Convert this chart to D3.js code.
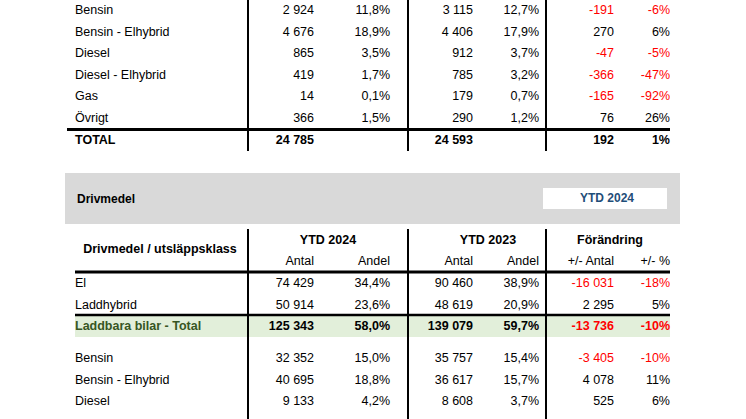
<!DOCTYPE html>
<html><head><meta charset="utf-8">
<script src="https://cdn.jsdelivr.net/npm/d3@7"></script>
<style>body{margin:0;background:#fff}svg{display:block;font-family:"Liberation Sans",Arial,sans-serif}</style>
</head><body><svg id="c" width="746" height="419"></svg>
<script>
const topLabels=["Bensin","Bensin - Elhybrid","Diesel","Diesel - Elhybrid","Gas","Övrigt"];
const topAntal24=["2 924","4 676","865","419","14","366"];
const topAndel24=["11,8%","18,9%","3,5%","1,7%","0,1%","1,5%"];
const topAntal23=["3 115","4 406","912","785","179","290"];
const topAndel23=["12,7%","17,9%","3,7%","3,2%","0,7%","1,2%"];
const topDiff=["-191","270","-47","-366","-165","76"];
const topPct=["-6%","6%","-5%","-47%","-92%","26%"];
const topTotal=["TOTAL","24 785","","24 593","","192","1%"];

const botLabels=["El","Laddhybrid","Laddbara bilar - Total","Bensin","Bensin - Elhybrid","Diesel"];
const botAntal24=["74 429","50 914","125 343","32 352","40 695","9 133"];
const botAndel24=["34,4%","23,6%","58,0%","15,0%","18,8%","4,2%"];
const botAntal23=["90 460","48 619","139 079","35 757","36 617","8 608"];
const botAndel23=["38,9%","20,9%","59,7%","15,4%","15,7%","3,7%"];
const botDiff=["-16 031","2 295","-13 736","-3 405","4 078","525"];
const botPct=["-18%","5%","-10%","-10%","11%","6%"];
const headGroups=["YTD 2024","YTD 2023","Förändring"];
const headSubs=["Antal","Andel","Antal","Andel","+/- Antal","+/- %"];

const svg=d3.select("#c");
const colX=[75,314,390,473,539,614,670]; // left label, then right edges
const vlines=[248,408,546];
const red="#ff0000";
function isNeg(s){return s.trim().startsWith("-");}

// top table
const yTop=d3.scaleLinear().domain([0,1]).range([10,31.5]);
vlines.forEach(x=>svg.append("line").attr("x1",x).attr("x2",x).attr("y1",0).attr("y2",151).attr("stroke","#000").attr("stroke-width",2));
function row(vals,y,bold,colorCols){
  vals.forEach((v,i)=>{
    const t=svg.append("text").attr("x",colX[i]).attr("y",y).attr("dy","0.35em")
      .attr("text-anchor",i===0?"start":"end").attr("font-size",12.5)
      .attr("font-weight",bold?"bold":"normal").attr("fill",(i>=5&&isNeg(v))?red:"#000").text(v);
  });
}
topLabels.forEach((l,i)=>row([l,topAntal24[i],topAndel24[i],topAntal23[i],topAndel23[i],topDiff[i],topPct[i]],yTop(i),false));
svg.append("line").attr("x1",67).attr("x2",670).attr("y1",129.5).attr("y2",129.5).attr("stroke","#000").attr("stroke-width",3);
row(topTotal,yTop(6)+1,true);

// bottom
svg.append("rect").attr("x",65).attr("y",173).attr("width",615).attr("height",51).attr("fill","#d9d9d9");
svg.append("rect").attr("x",543).attr("y",188).attr("width",124).attr("height",21).attr("fill","#fff");
svg.append("text").attr("x",77).attr("y",199).attr("dy","0.35em").attr("font-size",12).attr("font-weight","bold").text("Drivmedel");
svg.append("text").attr("x",607).attr("y",198).attr("dy","0.35em").attr("text-anchor","middle").attr("font-size",12).attr("font-weight","bold").attr("fill","#1f4e79").text("YTD 2024");
// green band
[[75,247],[249,407],[409,545],[547,670]].forEach(s=>svg.append("rect").attr("x",s[0]).attr("y",316).attr("width",s[1]-s[0]).attr("height",21).attr("fill","#e2efda"));
vlines.forEach(x=>svg.append("line").attr("x1",x).attr("x2",x).attr("y1",229).attr("y2",419).attr("stroke","#000").attr("stroke-width",2));
svg.append("text").attr("x",160).attr("y",249).attr("dy","0.35em").attr("text-anchor","middle").attr("font-size",12.5).attr("font-weight","bold").text("Drivmedel / utsläppsklass");
[[328,headGroups[0]],[488,headGroups[1]],[610,headGroups[2]]].forEach(d=>svg.append("text").attr("x",d[0]).attr("y",240).attr("dy","0.35em").attr("text-anchor","middle").attr("font-size",12.5).attr("font-weight","bold").text(d[1]));
headSubs.forEach((h,i)=>svg.append("text").attr("x",colX[i+1]).attr("y",261).attr("dy","0.35em").attr("text-anchor","end").attr("font-size",12.5).text(h));
svg.append("line").attr("x1",75).attr("x2",670).attr("y1",272).attr("y2",272).attr("stroke","#000").attr("stroke-width",3);
svg.append("line").attr("x1",75).attr("x2",670).attr("y1",315).attr("y2",315).attr("stroke","#000").attr("stroke-width",2.5);
const yB=[283,304.5,326,358,379.5,401];
botLabels.forEach((l,i)=>row([l,botAntal24[i],botAndel24[i],botAntal23[i],botAndel23[i],botDiff[i],botPct[i]],yB[i],i===2));
svg.selectAll("text").filter(function(){return d3.select(this).text()==="Laddbara bilar - Total";}).attr("fill","#375623");
</script></body></html>
